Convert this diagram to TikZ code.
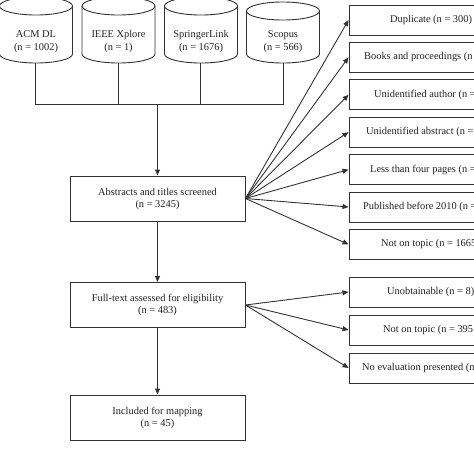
\documentclass[tikz,border=0pt]{standalone}
\usepackage{fontspec}
\setmainfont{Liberation Serif}
\usetikzlibrary{arrows.meta,calc}
\definecolor{ink}{HTML}{333333}
\definecolor{txt}{HTML}{222222}
\newcommand\dbcyl[3]{%
  \draw[ln] (#1-36.5,-#2) -- (#1-36.5,-#3) arc[start angle=180,end angle=360,x radius=36.5,y radius=9] -- (#1+36.5,-#2);
  \draw[ln] (#1,-#2) ellipse[x radius=36.5,y radius=9];}
\begin{document}
\begin{tikzpicture}[x=1pt,y=1pt,
  ln/.style={draw=ink,line width=0.9pt},
  arr/.style={ln,-{Triangle[length=6pt,width=5pt]}},
  lbox/.style={ln,rectangle,minimum width=175pt,minimum height=45pt,inner sep=0pt,align=center,
    font=\fontsize{10.4}{12}\selectfont,text=txt},
  rbox/.style={ln,rectangle,minimum width=164pt,minimum height=30pt,inner sep=0pt},
  rtext/.style={anchor=west,inner sep=0pt,font=\fontsize{10.4}{12}\selectfont,text=txt},
  dbtext/.style={inner sep=0pt,align=center,font=\fontsize{10.4}{13}\selectfont,text=txt}]
\useasboundingbox (0,0) rectangle (474,-474);
\clip (0,0) rectangle (474,-474);
% databases
\dbcyl{36}{6}{54}
\dbcyl{118.5}{6}{54}
\dbcyl{201}{6}{54}
\dbcyl{283}{11}{54}
\node[dbtext] (acm) at (36,-41.5) {ACM DL\\(n = 1002)};
\node[dbtext] (ieee) at (118.5,-41.5) {IEEE Xplore\\(n = 1)};
\node[dbtext] (spr) at (201,-41.5) {SpringerLink\\(n = 1676)};
\node[dbtext] (scop) at (283,-41.5) {Scopus\\(n = 566)};
\coordinate (acmb) at (35,-63);
\coordinate (ieeeb) at (118,-63);
\coordinate (sprb) at (200.5,-63);
\coordinate (scopb) at (283,-63);
\coordinate (jn) at (157.5,-104);
% main boxes
\node[lbox] (abs) at (157.5,-198.5) {Abstracts and titles screened\\(n = 3245)};
\node[lbox] (full) at (157.5,-305) {Full-text assessed for eligibility\\(n = 483)};
\node[lbox] (incl) at (157.5,-417.5) {Included for mapping\\(n = 45)};
% joins
\draw[ln] (acmb) |- (jn);
\draw[ln] (scopb) |- (jn);
\draw[ln] (ieeeb) -- (ieeeb|-jn);
\draw[ln] (sprb) -- (sprb|-jn);
\draw[arr] (jn) -- (abs.north);
\draw[arr] (abs.south) -- (full.north);
\draw[arr] (full.south) -- (incl.north);
% exclusion boxes, screening
\node[rbox] (e1) at (431,-20) {};
\node[rbox] (e2) at (431,-57.4) {};
\node[rbox] (e3) at (431,-94.8) {};
\node[rbox] (e4) at (431,-132.2) {};
\node[rbox] (e5) at (431,-169.6) {};
\node[rbox] (e6) at (431,-207) {};
\node[rbox] (e7) at (431,-244.4) {};
\node[rtext] (t1) at (390,-20) {Duplicate (n = 300)};
\node[rtext] (t2) at (364,-57.4) {Books and proceedings (n =};
\node[rtext] (t3) at (374,-94.8) {Unidentified author (n =};
\node[rtext] (t4) at (366,-132.2) {Unidentified abstract (n =};
\node[rtext] (t5) at (370,-169.6) {Less than four pages (n =};
\node[rtext] (t6) at (363,-207) {Published before 2010 (n =};
\node[rtext] (t7) at (381,-244.4) {Not on topic (n = 1665};
\foreach \i in {1,...,7} \draw[arr] (abs.east) -- (e\i.west);
% exclusion boxes, eligibility
\node[rbox] (f1) at (431,-292) {};
\node[rbox] (f2) at (431,-330) {};
\node[rbox] (f3) at (431,-368) {};
\node[rtext] (u1) at (387,-292) {Unobtainable (n = 8)};
\node[rtext] (u2) at (383,-330) {Not on topic (n = 395};
\node[rtext] (u3) at (362,-368) {No evaluation presented (n =};
\foreach \i in {1,2,3} \draw[arr] (full.east) -- (f\i.west);
\end{tikzpicture}
\end{document}
